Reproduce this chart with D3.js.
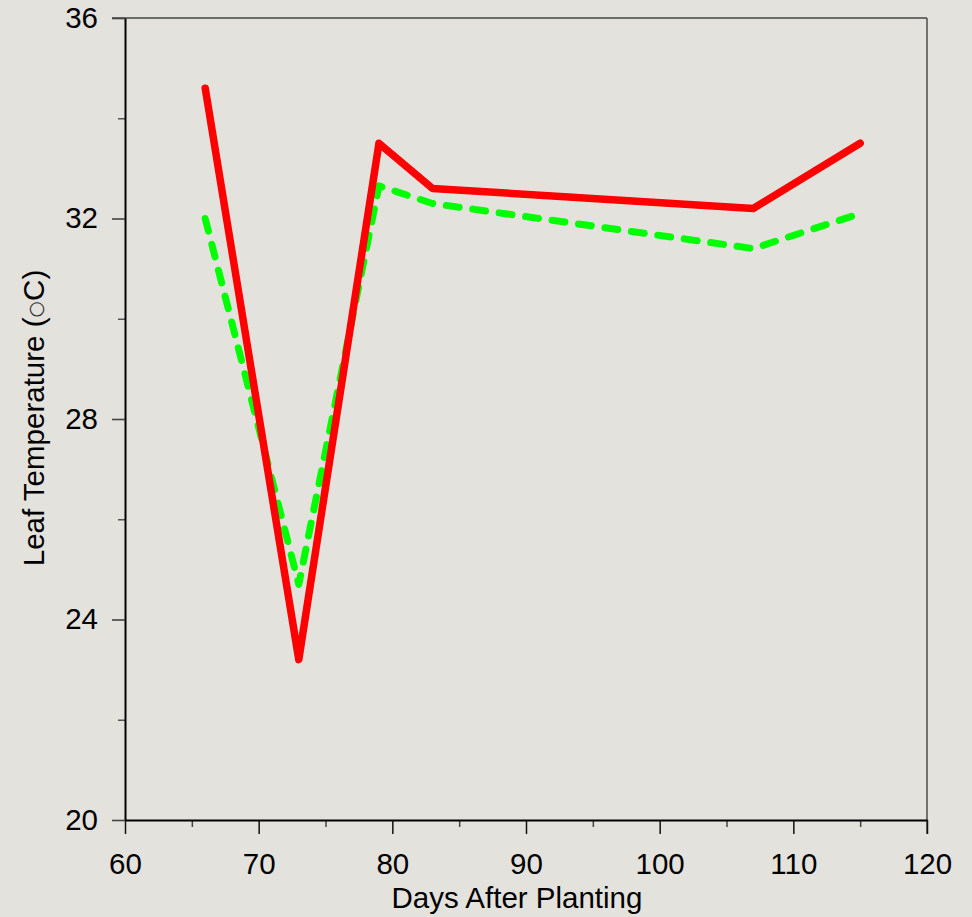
<!DOCTYPE html>
<html>
<head>
<meta charset="utf-8">
<script src="https://cdn.jsdelivr.net/npm/d3@7"></script>
<style>
  html, body { margin: 0; padding: 0; background: #e4e2dd; }
  svg { display: block; }
  text { font-family: "Liberation Sans", Arial, sans-serif; fill: #000; }
</style>
</head>
<body>
<svg id="chart" width="972" height="917"></svg>
<script>
// Days after planting at which leaf temperature was measured
const days = [66, 73, 79, 83, 107, 115];
// Leaf temperature (°C) for the two treatments
const redSeries = [34.6, 23.2, 33.5, 32.6, 32.2, 33.5];
const greenSeries = [32.0, 24.7, 32.65, 32.3, 31.4, 32.1];

const xMajorTicks = [60, 70, 80, 90, 100, 110, 120];
const xMinorTicks = [65, 75, 85, 95, 105, 115];
const yMajorTicks = [20, 24, 28, 32, 36];
const yMinorTicks = [22, 26, 30, 34];

const svg = d3.select("#chart");
const plotLeft = 125, plotRight = 927, plotTop = 18, plotBottom = 820;
const fontSize = "29.5px";

const x = d3.scaleLinear().domain([60, 120]).range([plotLeft, plotRight]);
const y = d3.scaleLinear().domain([20, 36]).range([plotBottom, plotTop]);

// Frame: top and right edges
svg.append("line")
  .attr("x1", plotLeft - 13).attr("x2", plotRight)
  .attr("y1", plotTop).attr("y2", plotTop)
  .attr("stroke", "#444").attr("stroke-width", 1.6);
svg.append("line")
  .attr("x1", plotRight).attr("x2", plotRight)
  .attr("y1", plotTop).attr("y2", plotBottom + 14)
  .attr("stroke", "#555").attr("stroke-width", 1.6);

// Minor ticks
const xMinorAxis = svg.append("g")
  .attr("transform", `translate(0,${plotBottom})`)
  .call(d3.axisBottom(x).tickValues(xMinorTicks).tickSize(7).tickFormat(""));
xMinorAxis.select(".domain").remove();
xMinorAxis.selectAll("line").attr("stroke", "#444").attr("stroke-width", 1.5);

const yMinorAxis = svg.append("g")
  .attr("transform", `translate(${plotLeft},0)`)
  .call(d3.axisLeft(y).tickValues(yMinorTicks).tickSize(7).tickFormat(""));
yMinorAxis.select(".domain").remove();
yMinorAxis.selectAll("line").attr("stroke", "#555").attr("stroke-width", 1.5);

// Major axes
const xAxis = svg.append("g")
  .attr("transform", `translate(0,${plotBottom})`)
  .call(d3.axisBottom(x).tickValues(xMajorTicks).tickSize(14).tickSizeOuter(0).tickPadding(19).tickFormat(d3.format("d")));
xAxis.select(".domain").attr("stroke", "#000").attr("stroke-width", 2);
xAxis.selectAll("line").attr("stroke", "#111").attr("stroke-width", 1.5);
xAxis.selectAll("text")
  .style("font-family", "'Liberation Sans', Arial, sans-serif")
  .style("font-size", fontSize).attr("fill", "#000");

const yAxis = svg.append("g")
  .attr("transform", `translate(${plotLeft},0)`)
  .call(d3.axisLeft(y).tickValues(yMajorTicks).tickSize(13).tickSizeOuter(0).tickPadding(14).tickFormat(d3.format("d")));
yAxis.select(".domain").attr("stroke", "#000").attr("stroke-width", 2);
yAxis.selectAll("line").attr("stroke", "#444").attr("stroke-width", 1.6);
yAxis.selectAll("text")
  .style("font-family", "'Liberation Sans', Arial, sans-serif")
  .style("font-size", fontSize).attr("fill", "#000");

// Axis titles
svg.append("text")
  .attr("x", 517).attr("y", 908)
  .attr("text-anchor", "middle")
  .style("font-size", fontSize)
  .text("Days After Planting");

const yTitle = svg.append("text")
  .attr("transform", "translate(44,418) rotate(-90)")
  .attr("text-anchor", "middle")
  .style("font-size", fontSize);
yTitle.append("tspan").text("Leaf Temperature (");
yTitle.append("tspan")
  .style("font-family", "'DejaVu Sans', sans-serif")
  .style("font-size", "19px")
  .attr("dy", "-2")
  .attr("fill", "#333")
  .text("\u25CB");
yTitle.append("tspan").attr("dy", "2").text("C)");

// Series lines
const line = d3.line()
  .x((d, i) => x(days[i]))
  .y(d => y(d));

svg.append("path")
  .datum(greenSeries)
  .attr("d", line)
  .attr("fill", "none")
  .attr("stroke", "#00ff00")
  .attr("stroke-width", 7)
  .attr("stroke-linecap", "round")
  .attr("stroke-linejoin", "round")
  .attr("stroke-dasharray", "13,13.7");

svg.append("path")
  .datum(redSeries)
  .attr("d", line)
  .attr("fill", "none")
  .attr("stroke", "#ff0000")
  .attr("stroke-width", 7.5)
  .attr("stroke-linecap", "round")
  .attr("stroke-linejoin", "round");
</script>
</body>
</html>
